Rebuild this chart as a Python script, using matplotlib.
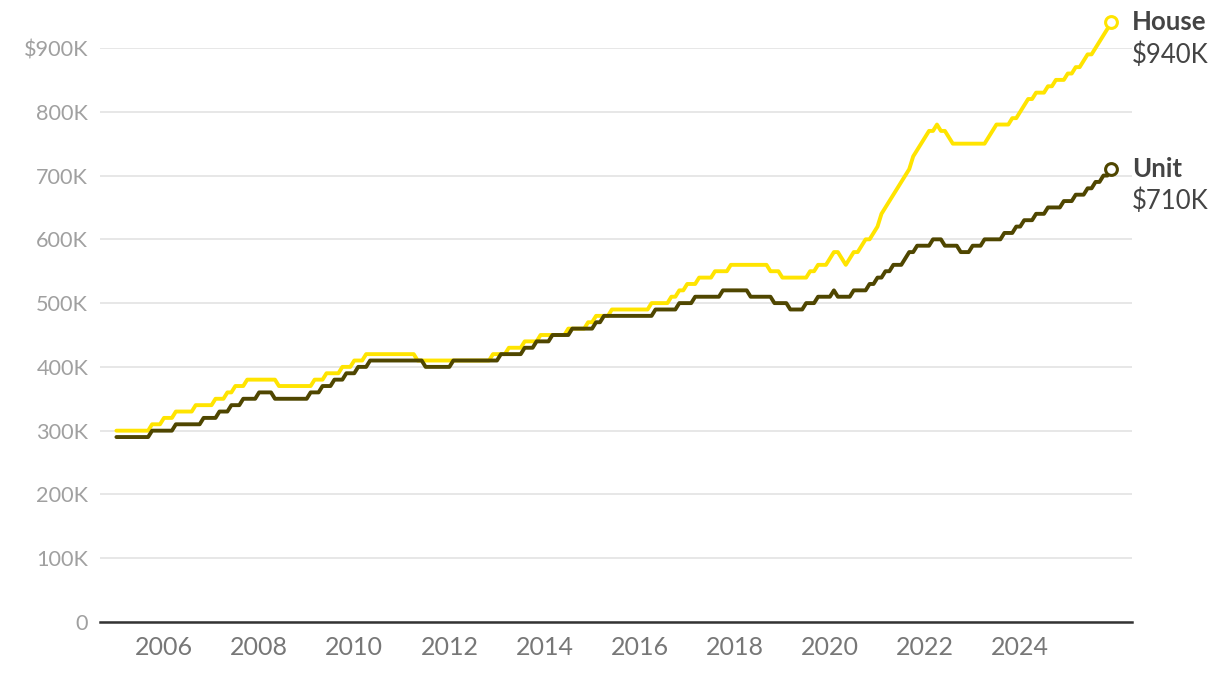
import matplotlib.pyplot as plt
import numpy as np

# monthly median price ($K), Jan 2005 .. Dec 2025, one row per year
house = [
    300, 300, 300, 300, 300, 300, 300, 300, 300, 310, 310, 310,  # 2005
    320, 320, 320, 330, 330, 330, 330, 330, 340, 340, 340, 340,  # 2006
    340, 350, 350, 350, 360, 360, 370, 370, 370, 380, 380, 380,  # 2007
    380, 380, 380, 380, 380, 370, 370, 370, 370, 370, 370, 370,  # 2008
    370, 370, 380, 380, 380, 390, 390, 390, 390, 400, 400, 400,  # 2009
    410, 410, 410, 420, 420, 420, 420, 420, 420, 420, 420, 420,  # 2010
    420, 420, 420, 420, 410, 410, 410, 410, 410, 410, 410, 410,  # 2011
    410, 410, 410, 410, 410, 410, 410, 410, 410, 410, 410, 420,  # 2012
    420, 420, 420, 430, 430, 430, 430, 440, 440, 440, 440, 450,  # 2013
    450, 450, 450, 450, 450, 450, 460, 460, 460, 460, 460, 470,  # 2014
    470, 480, 480, 480, 480, 490, 490, 490, 490, 490, 490, 490,  # 2015
    490, 490, 490, 500, 500, 500, 500, 500, 510, 510, 520, 520,  # 2016
    530, 530, 530, 540, 540, 540, 540, 550, 550, 550, 550, 560,  # 2017
    560, 560, 560, 560, 560, 560, 560, 560, 560, 550, 550, 550,  # 2018
    540, 540, 540, 540, 540, 540, 540, 550, 550, 560, 560, 560,  # 2019
    570, 580, 580, 570, 560, 570, 580, 580, 590, 600, 600, 610,  # 2020
    620, 640, 650, 660, 670, 680, 690, 700, 710, 730, 740, 750,  # 2021
    760, 770, 770, 780, 770, 770, 760, 750, 750, 750, 750, 750,  # 2022
    750, 750, 750, 750, 760, 770, 780, 780, 780, 780, 790, 790,  # 2023
    800, 810, 820, 820, 830, 830, 830, 840, 840, 850, 850, 850,  # 2024
    860, 860, 870, 870, 880, 890, 890, 900, 910, 920, 930, 940,  # 2025
]
unit = [
    290, 290, 290, 290, 290, 290, 290, 290, 290, 300, 300, 300,  # 2005
    300, 300, 300, 310, 310, 310, 310, 310, 310, 310, 320, 320,  # 2006
    320, 320, 330, 330, 330, 340, 340, 340, 350, 350, 350, 350,  # 2007
    360, 360, 360, 360, 350, 350, 350, 350, 350, 350, 350, 350,  # 2008
    350, 360, 360, 360, 370, 370, 370, 380, 380, 380, 390, 390,  # 2009
    390, 400, 400, 400, 410, 410, 410, 410, 410, 410, 410, 410,  # 2010
    410, 410, 410, 410, 410, 410, 400, 400, 400, 400, 400, 400,  # 2011
    400, 410, 410, 410, 410, 410, 410, 410, 410, 410, 410, 410,  # 2012
    410, 420, 420, 420, 420, 420, 420, 430, 430, 430, 440, 440,  # 2013
    440, 440, 450, 450, 450, 450, 450, 460, 460, 460, 460, 460,  # 2014
    460, 470, 470, 480, 480, 480, 480, 480, 480, 480, 480, 480,  # 2015
    480, 480, 480, 480, 490, 490, 490, 490, 490, 490, 500, 500,  # 2016
    500, 500, 510, 510, 510, 510, 510, 510, 510, 520, 520, 520,  # 2017
    520, 520, 520, 520, 510, 510, 510, 510, 510, 510, 500, 500,  # 2018
    500, 500, 490, 490, 490, 490, 500, 500, 500, 510, 510, 510,  # 2019
    510, 520, 510, 510, 510, 510, 520, 520, 520, 520, 530, 530,  # 2020
    540, 540, 550, 550, 560, 560, 560, 570, 580, 580, 590, 590,  # 2021
    590, 590, 600, 600, 600, 590, 590, 590, 590, 580, 580, 580,  # 2022
    590, 590, 590, 600, 600, 600, 600, 600, 610, 610, 610, 620,  # 2023
    620, 630, 630, 630, 640, 640, 640, 650, 650, 650, 650, 660,  # 2024
    660, 660, 670, 670, 670, 680, 680, 690, 690, 700, 700, 710,  # 2025
]
start_year = 2005
x_ticks = [2006, 2008, 2010, 2012, 2014, 2016, 2018, 2020, 2022, 2024]
y_ticks = [0, 100, 200, 300, 400, 500, 600, 700, 800, 900]
series_names = ["House", "Unit"]

HOUSE_COL = "#FFE400"
UNIT_COL = "#4F4600"

plt.rcParams['font.family'] = ['Lato', 'DejaVu Sans']

fig = plt.figure(figsize=(12.2, 6.76), dpi=100)
ax = fig.add_axes([100 / 1220, 54 / 676, 1032 / 1220, 574 / 676])

t = start_year + np.arange(len(house)) / 12
house_k = np.array(house) * 1000
unit_k = np.array(unit) * 1000

ax.plot(t, house_k, color=HOUSE_COL, lw=2.8, solid_joinstyle='round',
        solid_capstyle='round', clip_on=False, zorder=3)
ax.plot(t, unit_k, color=UNIT_COL, lw=2.8, solid_joinstyle='round',
        solid_capstyle='round', clip_on=False, zorder=4)

for vals, col, name in [(house_k, HOUSE_COL, series_names[0]), (unit_k, UNIT_COL, series_names[1])]:
    ax.plot(t[-1], vals[-1], 'o', ms=8.5, mfc='white', mec=col, mew=2.2, clip_on=False, zorder=5)
    ax.text(1.0, vals[-1], name, transform=ax.get_yaxis_transform(), fontsize=18.5,
            fontweight='bold', color='#444444', va='center', ha='left')
    ax.text(1.0, vals[-1] - 51000, f"${vals[-1] // 1000:.0f}K", transform=ax.get_yaxis_transform(),
            fontsize=18.5, color='#444444', va='center', ha='left')

ax.set_xlim(2004.655, 2026.35)
ax.set_ylim(0, 900000)

ax.set_yticks([v * 1000 for v in y_ticks])
ylabels = [("0" if v == 0 else f"{v}K") for v in y_ticks]
ylabels[-1] = "$" + ylabels[-1]
ax.set_yticklabels(ylabels)
ax.set_xticks(x_ticks)
ax.set_xticklabels([str(y) for y in x_ticks])

ax.tick_params(axis='y', length=0, pad=8.5, labelsize=15.6, labelcolor='#A0A0A0')
ax.tick_params(axis='x', length=0, pad=10, labelsize=18, labelcolor='#777777')

ax.grid(axis='y', color='#E3E3E3', lw=1.2)
ax.set_axisbelow(True)
for s in ['top', 'right', 'left']:
    ax.spines[s].set_visible(False)
ax.spines['bottom'].set_color('#333333')
ax.spines['bottom'].set_linewidth(1.8)

fig.savefig("out.png", dpi=100)
